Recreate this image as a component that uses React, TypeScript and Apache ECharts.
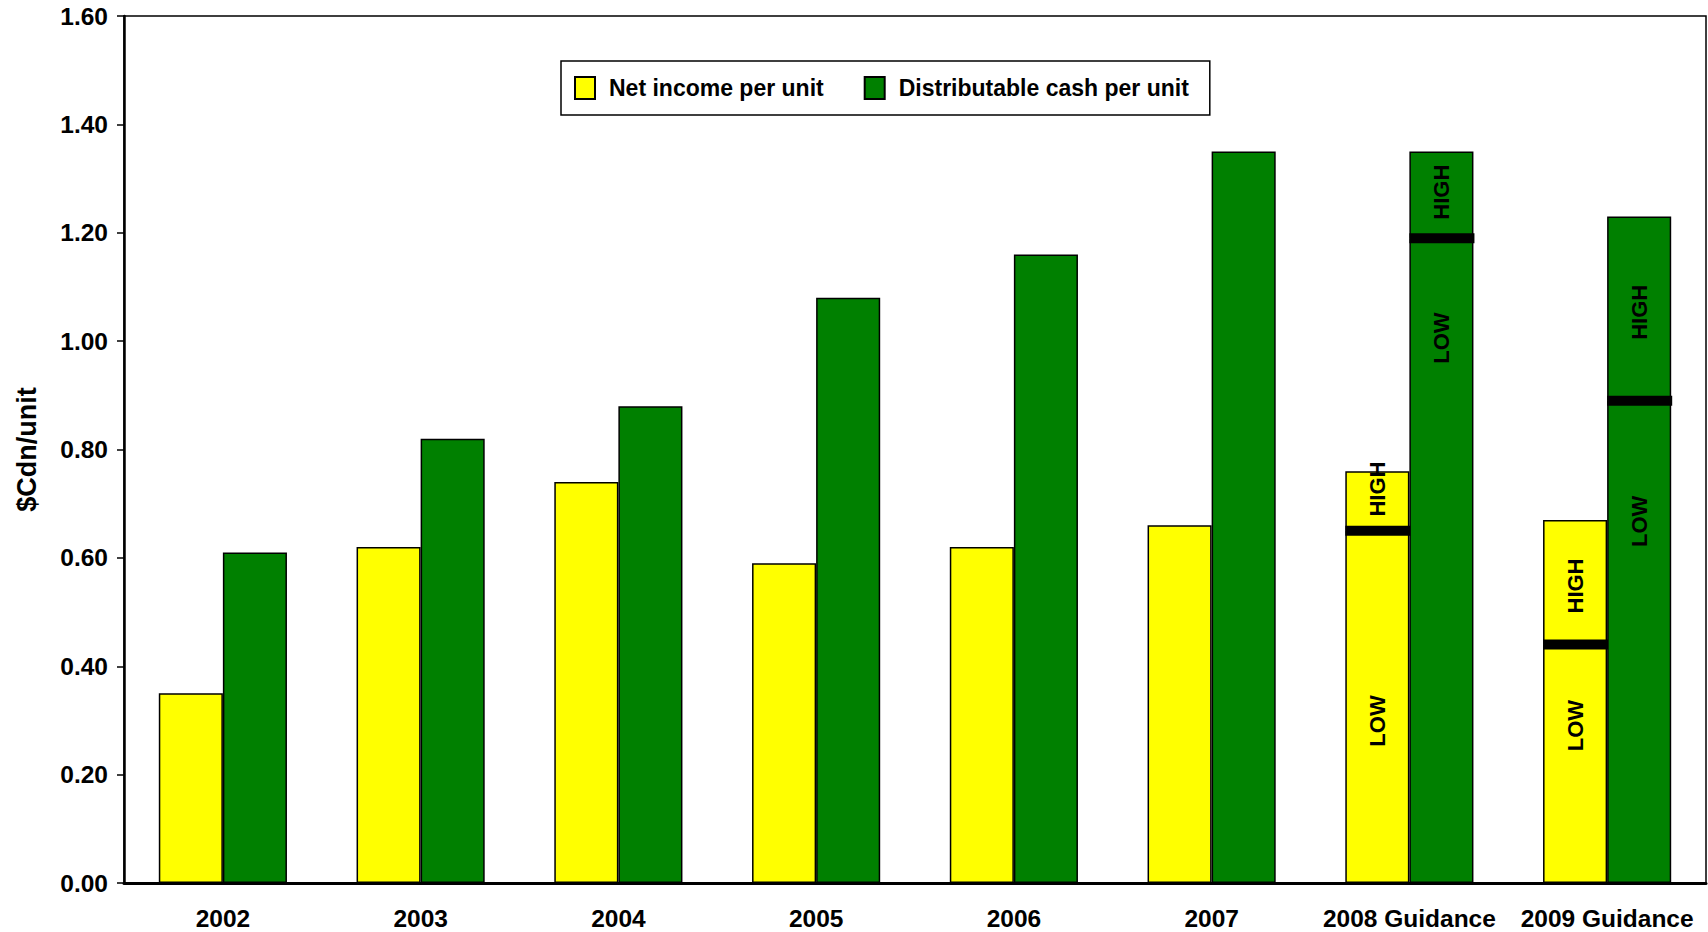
import React, { useEffect, useRef } from "react";
import * as echarts from "echarts";

const categories = ["2002", "2003", "2004", "2005", "2006", "2007", "2008 Guidance", "2009 Guidance"];
// Actual / low values per category
const netIncomeLow = [0.35, 0.62, 0.74, 0.59, 0.62, 0.66, 0.65, 0.44];
const distCashLow = [0.61, 0.82, 0.88, 1.08, 1.16, 1.35, 1.19, 0.89];
// High end of guidance (null where no range)
const netIncomeHigh = [null, null, null, null, null, null, 0.76, 0.67];
const distCashHigh = [null, null, null, null, null, null, 1.35, 1.23];
const yTicks = [0, 0.2, 0.4, 0.6, 0.8, 1.0, 1.2, 1.4, 1.6];

const FONT = "'Liberation Sans', Arial, sans-serif";
const YELLOW = "#FFFF00";
const GREEN = "#008000";
const BAR_W = "32.4%";

// label vertical positions (percent of segment height) for the guidance bars
const lowLabelPosNI: Record<number, string> = { 6: "54%", 7: "34%" };
const lowLabelPosDC: Record<number, string> = { 6: "15.5%", 7: "25%" };
const highLabelPosNI: Record<number, string> = { 6: "30%", 7: "53%" };
const highLabelPosDC: Record<number, string> = { 6: "47%", 7: "52%" };

const labelBase = {
  show: true,
  rotate: 90,
  align: "center",
  verticalAlign: "middle",
  color: "#000",
  fontFamily: FONT,
  fontWeight: "bold",
  fontSize: 22,
};

function buildLow(vals: number[], highs: (number | null)[], pos: Record<number, string>) {
  return vals.map((v, i) =>
    highs[i] == null
      ? v
      : { value: v, label: { ...labelBase, formatter: "LOW", position: ["50%", pos[i]] } }
  );
}
function buildHigh(lows: number[], highs: (number | null)[], pos: Record<number, string>) {
  return highs.map((h, i) =>
    h == null
      ? "-"
      : { value: +(h - lows[i]).toFixed(4), label: { ...labelBase, formatter: "HIGH", position: ["50%", pos[i]] } }
  );
}
function markerData(lows: number[], highs: (number | null)[]) {
  const out: number[][] = [];
  highs.forEach((h, i) => {
    if (h != null) out.push([i, lows[i]]);
  });
  return out;
}

function makeMarker(side: number) {
  return (params: any, api: any) => {
    const idx = api.value(0);
    const v = api.value(1);
    const pt = api.coord([idx, v]);
    const band = api.size([1, 0])[0];
    const w = band * 0.324;
    const x = side < 0 ? pt[0] - w : pt[0];
    return {
      type: "rect",
      shape: { x: x, y: pt[1] - 5, width: w + 1, height: 10 },
      style: { fill: "#000" },
    };
  };
}

export default function App() {
  const ref = useRef<HTMLDivElement>(null);
  useEffect(() => {
    if (!ref.current) return;
    const chart = echarts.init(ref.current, null, { renderer: "svg" });
    const barStyle = (c: string) => ({ color: c, borderColor: "#000", borderWidth: 1.5 });
    chart.setOption({
      animation: false,
      backgroundColor: "#fff",
      grid: {
        left: 124,
        right: 2,
        top: 16,
        bottom: 49,
        show: true,
        borderColor: "#000",
        borderWidth: 1.5,
        backgroundColor: "transparent",
      },
      legend: {
        data: ["Net income per unit", "Distributable cash per unit"],
        left: 561,
        top: 61,
        orient: "horizontal",
        icon: "rect",
        padding: [15, 21, 15, 13],
        itemWidth: 20,
        itemHeight: 22,
        itemGap: 40,
        borderColor: "#000",
        borderWidth: 1.5,
        backgroundColor: "#fff",
        textStyle: {
          fontFamily: FONT,
          fontWeight: "bold",
          fontSize: 23,
          color: "#000",
          padding: [0, 0, 0, 9],
        },
      },
      xAxis: {
        type: "category",
        data: categories,
        axisLine: { lineStyle: { color: "#000", width: 3 } },
        axisTick: { show: false },
        axisLabel: {
          fontFamily: FONT,
          fontWeight: "bold",
          fontSize: 24.5,
          color: "#000",
          margin: 23,
          interval: 0,
        },
        splitLine: { show: false },
      },
      yAxis: {
        type: "value",
        min: yTicks[0],
        max: yTicks[yTicks.length - 1],
        interval: 0.2,
        name: "$Cdn/unit",
        nameLocation: "middle",
        nameRotate: 90,
        nameGap: 84,
        nameTextStyle: {
          fontFamily: FONT,
          fontWeight: "bold",
          fontSize: 27,
          color: "#000",
        },
        axisLine: { show: true, lineStyle: { color: "#000", width: 2.5 } },
        axisTick: { show: true, length: 7, lineStyle: { color: "#000", width: 1.5 } },
        axisLabel: {
          fontFamily: FONT,
          fontWeight: "bold",
          fontSize: 24.5,
          color: "#000",
          margin: 16,
          formatter: (v: number) => v.toFixed(2),
        },
        splitLine: { show: false },
      },
      series: [
        {
          name: "Net income per unit",
          type: "bar",
          stack: "ni",
          barWidth: BAR_W,
          barGap: "0%",
          itemStyle: barStyle(YELLOW),
          data: buildLow(netIncomeLow, netIncomeHigh, lowLabelPosNI),
        },
        {
          name: "Net income high",
          type: "bar",
          stack: "ni",
          barWidth: BAR_W,
          barGap: "0%",
          itemStyle: barStyle(YELLOW),
          data: buildHigh(netIncomeLow, netIncomeHigh, highLabelPosNI),
        },
        {
          name: "Distributable cash per unit",
          type: "bar",
          stack: "dc",
          barWidth: BAR_W,
          barGap: "0%",
          itemStyle: barStyle(GREEN),
          data: buildLow(distCashLow, distCashHigh, lowLabelPosDC),
        },
        {
          name: "Distributable cash high",
          type: "bar",
          stack: "dc",
          barWidth: BAR_W,
          barGap: "0%",
          itemStyle: barStyle(GREEN),
          data: buildHigh(distCashLow, distCashHigh, highLabelPosDC),
        },
        {
          name: "ni marker",
          type: "custom",
          renderItem: makeMarker(-1),
          data: markerData(netIncomeLow, netIncomeHigh),
          z: 10,
        },
        {
          name: "dc marker",
          type: "custom",
          renderItem: makeMarker(1),
          data: markerData(distCashLow, distCashHigh),
          z: 10,
        },
      ],
    });
    return () => chart.dispose();
  }, []);
  return (
    <div
      ref={ref}
      style={{ position: "absolute", left: 0, top: 0, width: 1708, height: 932, background: "#fff" }}
    />
  );
}
